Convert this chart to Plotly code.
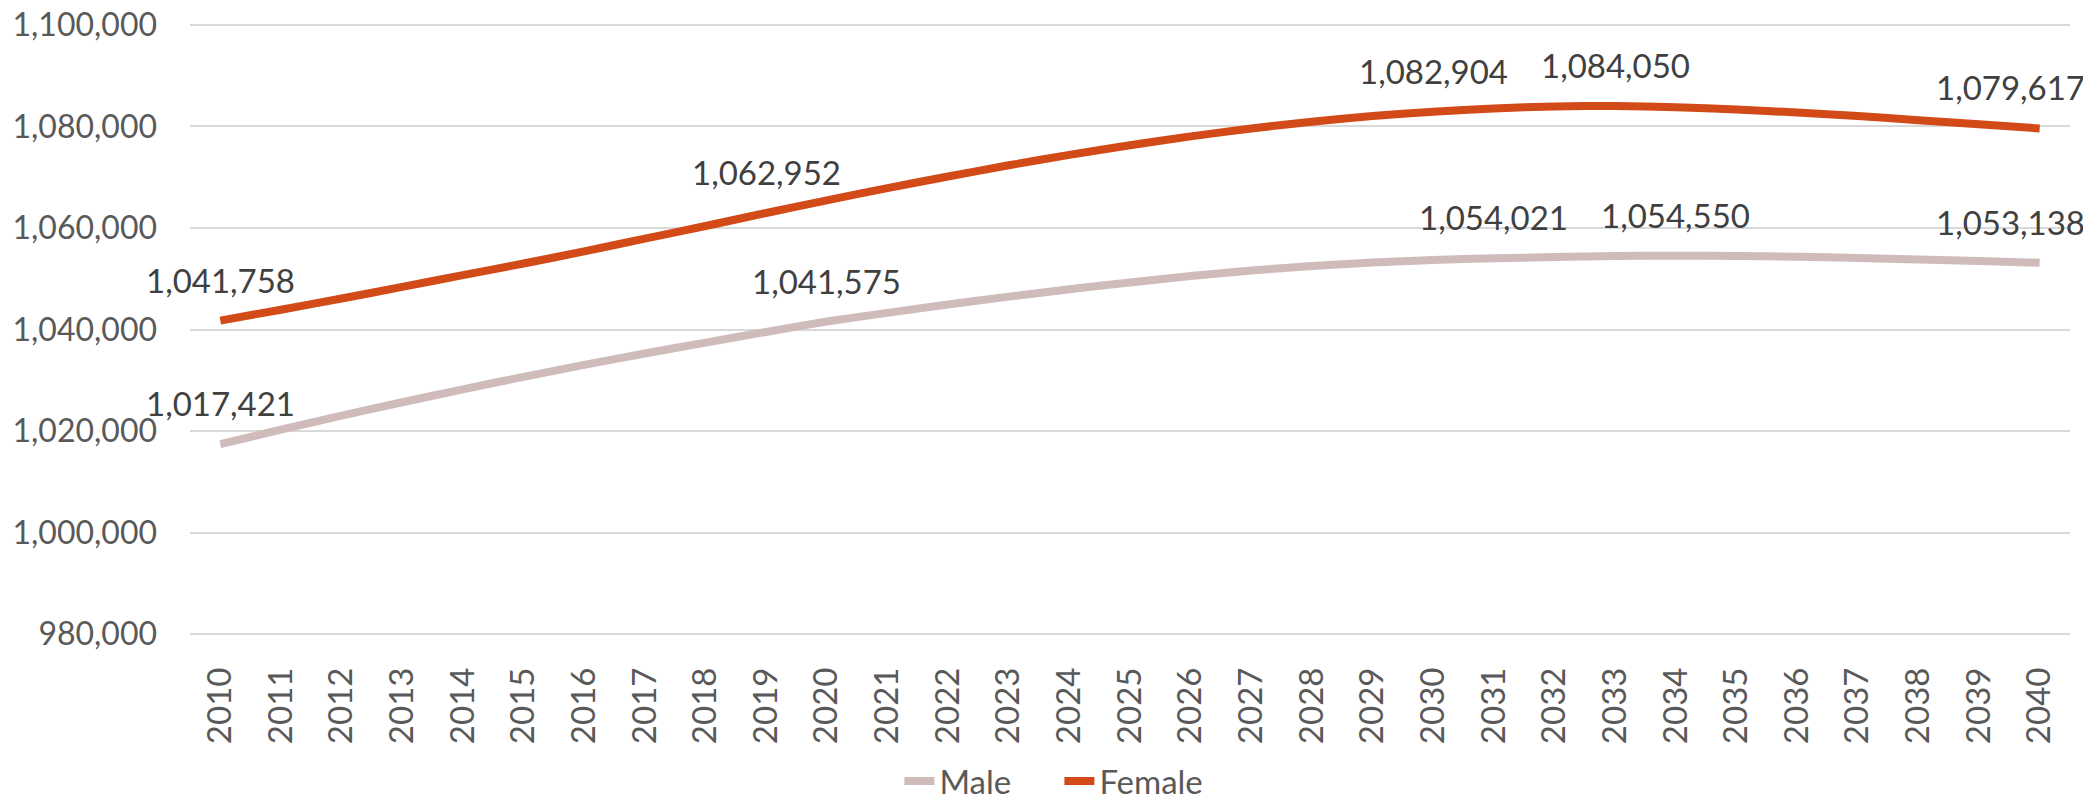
import plotly.graph_objects as go

years = list(range(2010, 2041))

male = [1017421, 1020270, 1023020, 1025670, 1028220, 1030670, 1033020, 1035270,
        1037420, 1039520, 1041575, 1043275, 1044925, 1046475, 1047925, 1049275,
        1050525, 1051625, 1052500, 1053200, 1053700, 1054021, 1054280, 1054460,
        1054550, 1054500, 1054350, 1054100, 1053800, 1053480, 1053138]

female = [1041758, 1043900, 1046100, 1048400, 1050700, 1053000, 1055400, 1057900,
          1060400, 1062952, 1065452, 1067852, 1070152, 1072352, 1074402, 1076302,
          1078052, 1079602, 1080952, 1082052, 1082904, 1083550, 1083950, 1084050,
          1083800, 1083350, 1082750, 1082050, 1081250, 1080450, 1079617]

male_label_years = [2010, 2020, 2031, 2034, 2040]
female_label_years = [2010, 2019, 2030, 2033, 2040]

y_ticks = [980000, 1000000, 1020000, 1040000, 1060000, 1080000, 1100000]

MALE_COLOR = "#D0BBBB"
FEMALE_COLOR = "#D24A18"
FONT = "Lato, 'Open Sans', sans-serif"

fig = go.Figure()
fig.add_trace(go.Scatter(x=years, y=male, name="Male", mode="lines",
                         line=dict(color=MALE_COLOR, width=8, shape="spline", smoothing=0.6)))
fig.add_trace(go.Scatter(x=years, y=female, name="Female", mode="lines",
                         line=dict(color=FEMALE_COLOR, width=8, shape="spline", smoothing=0.6)))

annotations = []
for series, label_years in ((male, male_label_years), (female, female_label_years)):
    for yr in label_years:
        v = series[years.index(yr)]
        last = yr == years[-1]
        annotations.append(dict(
            x=yr, y=v, xref="x", yref="y", text=f"{v:,}", showarrow=False,
            xanchor="right" if last else "center", yanchor="bottom",
            xshift=47 if last else 0, yshift=19,
            font=dict(family=FONT, size=33, color="#404040")))

fig.update_layout(
    width=2091, height=799,
    margin=dict(l=182, r=29, t=15, b=171, autoexpand=False),
    paper_bgcolor="white", plot_bgcolor="white",
    font=dict(family=FONT, size=33, color="#595959"),
    showlegend=True,
    legend=dict(orientation="h", xref="container", yref="container",
                x=0.4263, xanchor="left", y=0.0325, yanchor="middle",
                entrywidth=115,
                font=dict(family=FONT, size=33, color="#595959"),
                bgcolor="rgba(0,0,0,0)"),
    annotations=annotations,
)
fig.update_xaxes(range=[2009.5, 2040.5], tickmode="array", tickvals=years,
                 ticktext=[str(y) for y in years], tickangle=-90,
                 showgrid=False, zeroline=False, showline=False, ticks="",
                 ticklabelstandoff=24, automargin=False,
                 tickfont=dict(family=FONT, size=33, color="#595959"))
fig.update_yaxes(range=[979610, 1100390], tickmode="array", tickvals=y_ticks,
                 tickformat=",", showgrid=True, gridcolor="#D9D9D9", gridwidth=2,
                 zeroline=False, showline=False, ticks="", ticklabelstandoff=32,
                 ticklabeloverflow="allow", automargin=False,
                 tickfont=dict(family=FONT, size=32, color="#595959"))

fig.write_html("out.html")
